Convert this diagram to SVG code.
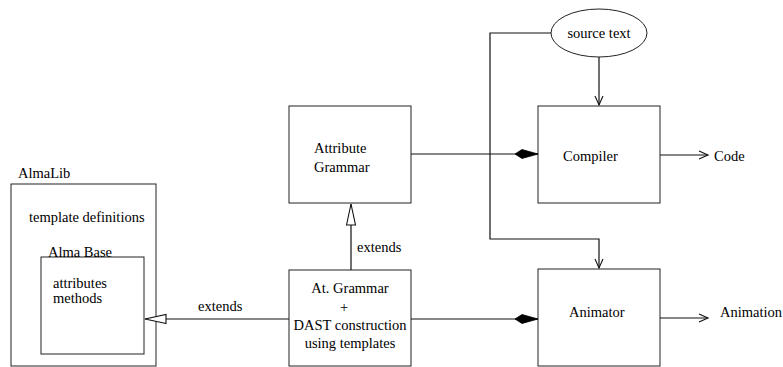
<svg xmlns="http://www.w3.org/2000/svg" width="783" height="367" viewBox="0 0 783 367">
  <style>
    .box { fill: #fff; stroke: #222; stroke-width: 1; }
    .ln { fill: none; stroke: #111; stroke-width: 1.2; }
    .t { font-family: "Liberation Serif", "Times New Roman", serif; font-size: 14.5px; fill: #000; }
  </style>
  <defs>
    <marker id="open" markerWidth="12" markerHeight="10" refX="10" refY="5" orient="auto" markerUnits="userSpaceOnUse">
      <path d="M1,1 L10,5 L1,9" fill="none" stroke="#111" stroke-width="1.1"/>
    </marker>
    <marker id="hollow" markerWidth="24" markerHeight="12" refX="22" refY="6" orient="auto" markerUnits="userSpaceOnUse">
      <path d="M1,1.5 L22,6 L1,10.5 Z" fill="#fff" stroke="#111" stroke-width="1.1"/>
    </marker>
    <marker id="diamond" markerWidth="26" markerHeight="12" refX="24" refY="6" orient="auto" markerUnits="userSpaceOnUse">
      <path d="M1,6 L8,1.5 L24,6 L8,10.5 Z" fill="#000" stroke="#000" stroke-width="0.8"/>
    </marker>
  </defs>

  <g id="almalib" class="t">
    <rect class="box" x="11" y="184" width="145" height="182"/>
    <text x="18" y="178">AlmaLib</text>
    <text x="29" y="222">template definitions</text>
  </g>

  <g id="almabase" class="t">
    <rect class="box" x="41" y="257" width="103" height="97"/>
    <text x="48" y="257">Alma Base</text>
    <text x="53" y="288">attributes</text>
    <text x="53" y="303">methods</text>
  </g>

  <g id="attribute-grammar" class="t">
    <rect class="box" x="289" y="106" width="122" height="97"/>
    <text x="314" y="153">Attribute</text>
    <text x="314" y="172">Grammar</text>
  </g>

  <g id="at-grammar-dast" class="t">
    <rect class="box" x="289" y="270" width="122" height="96"/>
    <text x="350" y="293" text-anchor="middle">At. Grammar</text>
    <text x="344" y="312" text-anchor="middle" fill="#000">+</text>
    <text x="350" y="330" text-anchor="middle">DAST construction</text>
    <text x="350" y="348" text-anchor="middle">using templates</text>
  </g>

  <g id="source-text" class="t">
    <ellipse class="box" cx="599" cy="33" rx="48" ry="24"/>
    <text x="599" y="38" text-anchor="middle">source text</text>
  </g>

  <g id="compiler" class="t">
    <rect class="box" x="538" y="106" width="122" height="97"/>
    <text x="563" y="161">Compiler</text>
  </g>

  <g id="animator" class="t">
    <rect class="box" x="538" y="269" width="122" height="97"/>
    <text x="569" y="317">Animator</text>
  </g>

  <g id="outputs" class="t">
    <text x="714" y="161">Code</text>
    <text x="720" y="317">Animation</text>
  </g>

  <g id="connectors" class="t">
    <!-- generalisation: DAST node extends AlmaBase -->
    <path class="ln" d="M289,319 L145,319" marker-end="url(#hollow)"/>
    <text x="198" y="311">extends</text>
    <!-- generalisation: DAST node extends Attribute Grammar -->
    <path class="ln" d="M351,270 L351,204" marker-end="url(#hollow)"/>
    <text x="357" y="252">extends</text>
    <!-- aggregation into the tools -->
    <path class="ln" d="M411,154 L538,154" marker-end="url(#diamond)"/>
    <path class="ln" d="M411,319 L538,319" marker-end="url(#diamond)"/>
    <!-- source text feeds both tools -->
    <path class="ln" d="M599,57 L599,105" marker-end="url(#open)"/>
    <path class="ln" d="M551,33 L490,33 L490,239 L599,239 L599,268" marker-end="url(#open)"/>
    <!-- outputs -->
    <path class="ln" d="M660,155 L708,155" marker-end="url(#open)"/>
    <path class="ln" d="M660,318 L708,318" marker-end="url(#open)"/>
  </g>
</svg>
